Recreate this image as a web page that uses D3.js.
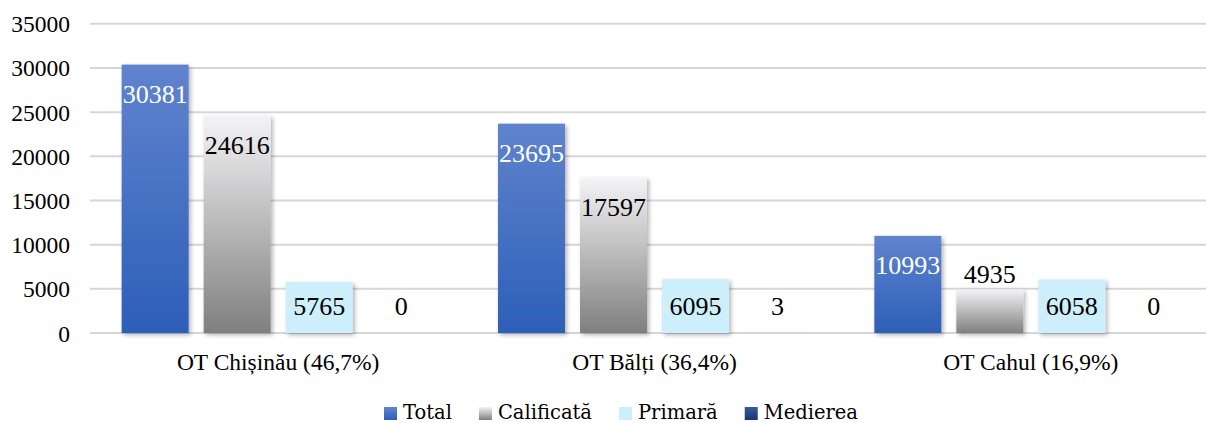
<!DOCTYPE html>
<html><head><meta charset="utf-8">
<script src="https://cdn.jsdelivr.net/npm/d3@7"></script>
<style>
html,body{margin:0;padding:0;background:#fff;overflow:hidden}
svg{display:block}
.serif{font-family:"Liberation Serif","Times New Roman",Times,serif}
.legend{font-family:"DejaVu Serif",serif}
</style></head>
<body>
<svg id="chart" width="1206" height="423"></svg>
<script>
const categories = ["OT Chișinău (46,7%)", "OT Bălți (36,4%)", "OT Cahul (16,9%)"];
const seriesNames = ["Total", "Calificată", "Primară", "Medierea"];
const totalValues = [30381, 23695, 10993];
const calificataValues = [24616, 17597, 4935];
const primaraValues = [5765, 6095, 6058];
const medierea = [0, 3, 0];
const yTicks = [0, 5000, 10000, 15000, 20000, 25000, 30000, 35000];

const seriesValues = [totalValues, calificataValues, primaraValues, medierea];
const colors = [
  {top:"#6083CE", bottom:"#2D5FB8", text:"#ffffff"},
  {top:"#F4F4F6", bottom:"#7F7F7F", text:"#000000"},
  {top:"#CDEFFB", bottom:"#CDEFFB", text:"#000000"},
  {top:"#3A5A9E", bottom:"#1D3570", text:"#000000"}
];

const svg = d3.select("#chart");
const margin = {left:90, right:1219, top:23.8, bottom:333};

const x0 = d3.scaleBand().domain(categories).range([margin.left, margin.right]).padding(0);
const x1 = d3.scaleBand().domain(seriesNames).range([0, x0.bandwidth()])
  .paddingInner(15/82).paddingOuter(0.386);
const y = d3.scaleLinear().domain([0, 35000]).range([margin.bottom, margin.top]);

const defs = svg.append("defs");
colors.forEach((c, i) => {
  const g = defs.append("linearGradient").attr("id", "grad" + i)
    .attr("x1", 0).attr("y1", 0).attr("x2", 0).attr("y2", 1);
  g.append("stop").attr("offset", "0%").attr("stop-color", c.top);
  g.append("stop").attr("offset", "100%").attr("stop-color", c.bottom);
});
const f = defs.append("filter").attr("id", "shadow")
  .attr("x", "-20%").attr("y", "-20%").attr("width", "150%").attr("height", "150%");
f.append("feDropShadow").attr("dx", 2).attr("dy", 2).attr("stdDeviation", 2)
  .attr("flood-color", "#000").attr("flood-opacity", 0.3);

// gridlines
svg.append("g").selectAll("line").data(yTicks).join("line")
  .attr("x1", margin.left).attr("x2", margin.right)
  .attr("y1", d => y(d)).attr("y2", d => y(d))
  .attr("stroke", "#D6D6D6").attr("stroke-width", 2);

// y axis labels
const yAxis = d3.axisLeft(y).tickValues(yTicks).tickSize(0).tickPadding(0).tickFormat(d3.format("d"));
const ya = svg.append("g").attr("transform", "translate(70,0)").call(yAxis)
  .attr("font-family", null).attr("font-size", null);
ya.select(".domain").remove();
ya.selectAll("text").attr("class", "serif").style("font-size", "23.5px")
  .attr("fill", "#000").attr("dy", "0.34em");

// x axis labels
const xAxis = d3.axisBottom(x0).tickSize(0).tickPadding(0);
const xa = svg.append("g").attr("transform", "translate(0,370)").call(xAxis)
  .attr("font-family", null).attr("font-size", null);
xa.select(".domain").remove();
xa.selectAll("text").attr("class", "serif").style("font-size", "23.5px")
  .attr("fill", "#000").attr("dy", 0);

// bars
const groups = svg.append("g").selectAll("g").data(categories).join("g")
  .attr("transform", d => `translate(${x0(d)},0)`);

const cells = groups.selectAll("g.cell").data((c, ci) => seriesNames.map((s, si) => ({s, si, v: seriesValues[si][ci]})))
  .join("g").attr("class", "cell");

cells.filter(d => d.v > 0).append("rect")
  .attr("x", d => x1(d.s)).attr("width", x1.bandwidth())
  .attr("y", d => y(d.v)).attr("height", d => y(0) - y(d.v))
  .attr("fill", d => `url(#grad${d.si})`)
  .attr("filter", "url(#shadow)");

cells.append("text")
  .attr("class", "serif")
  .attr("x", d => x1(d.s) + x1.bandwidth() / 2)
  .attr("y", d => {
    const top = y(d.v), h = y(0) - top;
    if (h > 10 && h < 48) return top - 6;
    return Math.min(top + 38, y(0) - 18);
  })
  .attr("text-anchor", "middle")
  .style("font-size", "26px")
  .attr("fill", d => (y(0) - y(d.v)) >= 48 ? colors[d.si].text : "#000")
  .text(d => d.v);

// legend
const leg = svg.append("g").attr("transform", "translate(384,0)");
let lx = 0;
seriesNames.forEach((s, i) => {
  leg.append("rect").attr("x", lx).attr("y", 407).attr("width", 13).attr("height", 13)
    .attr("fill", `url(#grad${i})`);
  const t = leg.append("text").attr("class", "legend").attr("x", lx + 19).attr("y", 419)
    .style("font-size", "19.5px")
    .attr("fill", "#000").text(s);
  lx += 19 + t.node().getComputedTextLength() + 27;
});
</script>
</body></html>
